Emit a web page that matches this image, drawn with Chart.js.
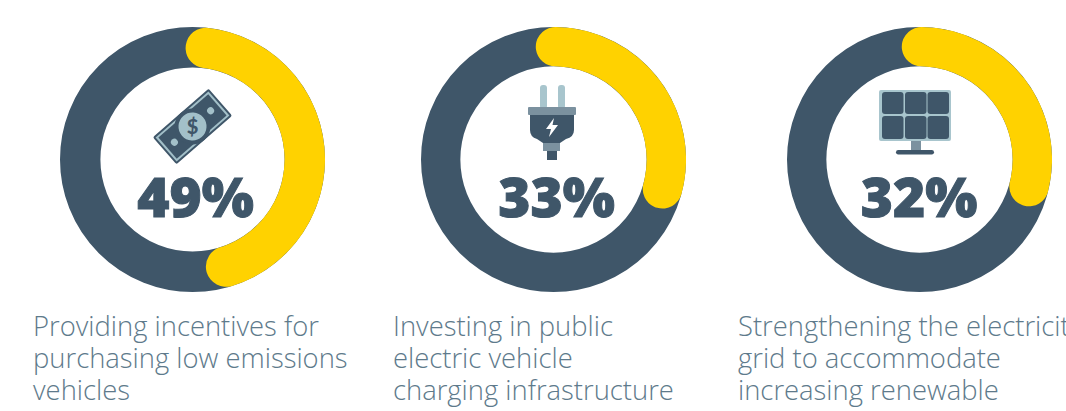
<!DOCTYPE html>
<html><head><meta charset="utf-8">
<script src="https://cdn.jsdelivr.net/npm/chart.js@4"></script>
<style>
html,body{margin:0;padding:0;background:#fff;width:1066px;height:411px;overflow:hidden;position:relative}
canvas{position:absolute;top:27px}
.pct{position:absolute;top:158px;width:200px;text-align:center;font:800 55px/76px "Open Sans",sans-serif;color:#3f5669;-webkit-text-stroke:1px #3f5669}
.lab{position:absolute;top:310px;font:300 27.4px/32px "Open Sans",sans-serif;color:#5e7a8b;white-space:nowrap}
svg{position:absolute;left:0;top:0}
</style></head><body>
<svg width="1066" height="411">
  <g transform="translate(192.5 126.5) rotate(-41)">
    <rect x="-37" y="-18" width="74" height="36" rx="2" fill="#3f5669"/>
    <rect x="-35" y="-16" width="70" height="32" fill="#a3c0c9"/>
    <rect x="-33" y="-14" width="66" height="28" fill="#3f5669"/>
    <circle r="18" fill="#3f5669"/>
    <circle r="14" fill="#a3c0c9"/>
    <circle cx="-24" r="3.500" fill="#a3c0c9"/>
    <circle cx="24" r="3.500" fill="#a3c0c9"/>
    <text transform="rotate(41)" y="7" text-anchor="middle" font-family="Lato" font-weight="900" font-size="20" fill="#3f5669">$</text>
  </g>
  <rect x="540" y="85" width="7" height="24" rx="3" fill="#a8c5cd"/>
  <rect x="558" y="85" width="7" height="24" rx="3" fill="#a8c5cd"/>
  <rect x="528" y="107" width="48" height="8" rx="1" fill="#7b919f"/>
  <path d="M530 115H574V130Q574 137 566 139L560 143H543L537 139Q530 137 530 130Z" fill="#3f5669"/>
  <rect x="543" y="143" width="17" height="8" fill="#7b919f"/>
  <rect x="547" y="151" width="10" height="9" fill="#3f5669"/>
  <path d="M554 118L546 129H551L549 137L558 125H552.500Z" fill="#fff"/>
  <rect x="879" y="90" width="72" height="51" rx="2" fill="#a8c5cd"/>
  <g fill="#3f5669">
    <rect x="882" y="92" width="21.500" height="22" rx="3"/><rect x="905" y="92" width="21.500" height="22" rx="3"/><rect x="927.500" y="92" width="21.500" height="22" rx="3"/>
    <rect x="882" y="116" width="21.500" height="23" rx="3"/><rect x="905" y="116" width="21.500" height="23" rx="3"/><rect x="927.500" y="116" width="21.500" height="23" rx="3"/>
    <rect x="896" y="150" width="38" height="4.500" rx="2.200"/>
  </g>
  <rect x="911" y="141" width="10" height="9" fill="#7b919f"/>
</svg>
<canvas id="c0" width="265" height="265" style="left:60px"></canvas>
<canvas id="c1" width="265" height="265" style="left:421px"></canvas>
<canvas id="c2" width="265" height="265" style="left:787px"></canvas>
<div class="pct" style="left:95.5px">49%</div>
<div class="pct" style="left:456.5px">33%</div>
<div class="pct" style="left:819px">32%</div>
<div class="lab" style="left:33px">Providing incentives for<br>purchasing low emissions<br>vehicles</div>
<div class="lab" style="left:393px">Investing in public<br>electric vehicle<br>charging infrastructure</div>
<div class="lab" style="left:738px">Strengthening the electricity<br>grid to accommodate<br>increasing renewable</div>
<script>
const shares = [49, 33, 32];
const startAngles = [-3.5, -9, -9];
const sweeps = [360, 376, 384];
const cutouts = ['69.5%', '70.3%', '70.3%'];
const yellow = '#ffd200', slate = '#3f5669';
const ringBehind = {
  id: 'ringBehind',
  beforeDatasetsDraw(chart) {
    const a = chart.getDatasetMeta(0).data[0];
    const c = chart.ctx, r = (a.outerRadius + a.innerRadius) / 2;
    c.save();
    c.beginPath();
    c.arc(a.x, a.y, r, 0, Math.PI * 2);
    c.lineWidth = a.outerRadius - a.innerRadius;
    c.strokeStyle = slate;
    c.stroke();
    c.restore();
  }
};
shares.forEach((v, i) => {
  new Chart(document.getElementById('c' + i), {
    type: 'doughnut',
    plugins: [ringBehind],
    data: {
      labels: ['Share', 'Rest'],
      datasets: [{
        data: [v, 100 - v],
        backgroundColor: [yellow, 'rgba(0,0,0,0)'],
        borderWidth: 0,
        borderRadius: [21, 0]
      }]
    },
    options: {
      responsive: false,
      animation: false,
      cutout: cutouts[i],
      rotation: startAngles[i],
      circumference: sweeps[i],
      layout: { padding: 0 },
      plugins: { legend: { display: false }, tooltip: { enabled: false } }
    }
  });
});
</script>
</body></html>
